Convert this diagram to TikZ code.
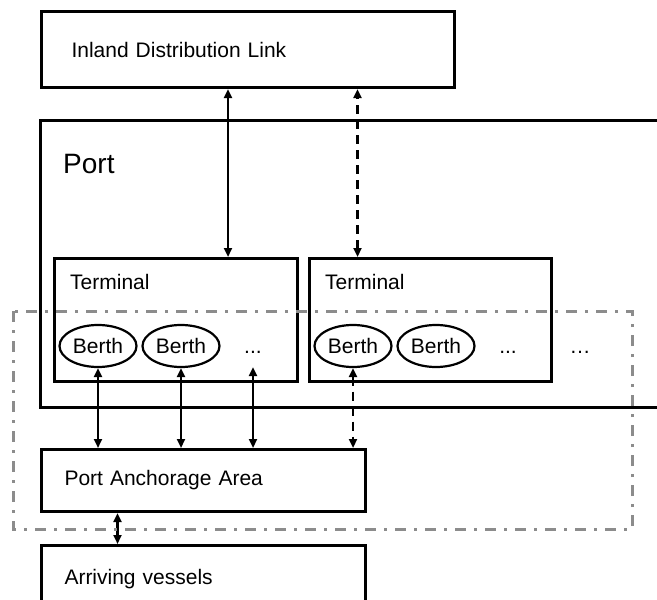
\documentclass[tikz,border=0pt]{standalone}
\usepackage{fontspec}
\setmainfont{Liberation Sans}
\usetikzlibrary{shapes.geometric,arrows.meta}
\definecolor{zonegray}{gray}{0.55}
\newcommand{\lbl}{\fontsize{21}{25}\selectfont}
\begin{document}
\begin{tikzpicture}[x=1pt, y=-1pt,
    box/.style={draw, line width=3pt, rectangle, inner ysep=0pt, align=left, font=\lbl},
    tag/.style={anchor=base west, inner sep=0pt, font=\lbl},
    berth/.style={draw, ellipse, line width=2.2pt, minimum width=77pt, minimum height=42pt,
        inner sep=0pt, text height=15pt, text depth=0pt, font=\lbl},
    more/.style={minimum height=42pt, inner sep=0pt, text height=15pt, text depth=0pt, font=\lbl},
    link/.style={line width=2.5pt, {Triangle[length=9pt,width=8pt]}-{Triangle[length=9pt,width=8pt]}},
    maybe/.style={link, dash pattern=on 9pt off 6pt},
    zone/.style={draw=zonegray, line width=3pt, dash pattern=on 11pt off 8pt on 3pt off 8pt}]
    \path[use as bounding box, clip] (0,0) rectangle (657,600);

    % Outer boxes
    \node[box, anchor=north west, minimum height=76pt, text width=353pt, inner xsep=30pt]
        (inland) at (40,10) {Inland Distribution Link};
    \node[box, anchor=north west, minimum height=62pt, text width=278pt, inner xsep=23pt]
        (anch) at (40,448) {Port Anchorage Area};
    \node[box, anchor=north west, minimum height=67pt, text width=278pt, inner xsep=23pt]
        (arriving) at (40,544) {Arriving vessels};

    % Port, open to the right
    \draw[line width=3pt] (670,120) -- (40,120) -- (40,407) -- (670,407);
    \node[tag, font=\fontsize{28}{32}\selectfont] (portlbl) at (63,173) {Port};

    % Terminals
    \node[box, anchor=north west, minimum width=243pt, minimum height=123pt] (term1) at (53,257) {};
    \node[box, anchor=north west, minimum width=242pt, minimum height=123pt] (term2) at (308,257) {};
    \node[tag] (term1lbl) at ([xshift=17pt, yshift=-32pt]term1.north west) {Terminal};
    \node[tag] (term2lbl) at ([xshift=17pt, yshift=-32pt]term2.north west) {Terminal};

    % Berths
    \node[berth] (berth1) at (98,346) {Berth};
    \node[berth] (berth2) at (181,346) {Berth};
    \node[more] (more1) at (253,346) {...};
    \node[berth] (berth3) at (353,346) {Berth};
    \node[berth] (berth4) at (436,346) {Berth};
    \node[more] (more2) at (508,346) {...};
    \node[more] (more3) at (580,346) {…};

    % Links
    \coordinate (t1up) at ([xshift=52pt]term1.north);
    \coordinate (t2up) at ([xshift=-73pt]term2.north);
    \coordinate (anchdown) at ([xshift=-86pt]anch.south);
    \draw[link] (t1up) -- (t1up |- inland.south);
    \draw[maybe] (t2up) -- (t2up |- inland.south);
    \draw[link] (berth1.south) -- (berth1.south |- anch.north);
    \draw[link] (berth2.south) -- (berth2.south |- anch.north);
    \draw[link] (more1.south) -- (more1.south |- anch.north);
    \draw[maybe] (berth3.south) -- (berth3.south |- anch.north);
    \draw[link] (anchdown) -- (anchdown |- arriving.north);

    % Anchorage zone
    \draw[zone] (13,311) rectangle (632,529);
\end{tikzpicture}
\end{document}
